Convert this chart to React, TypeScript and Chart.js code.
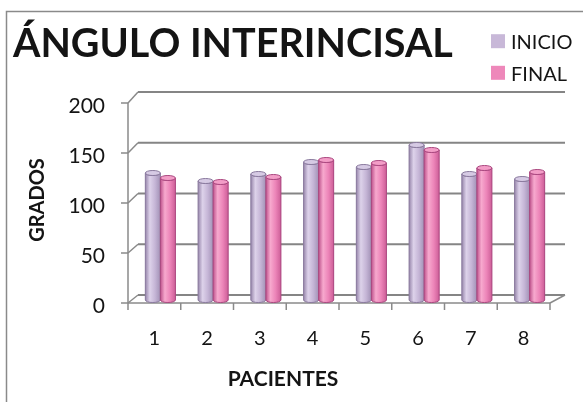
import React, { useEffect, useRef } from "react";
import { Chart, registerables } from "chart.js";

Chart.register(...registerables);

const PACIENTES = ["1", "2", "3", "4", "5", "6", "7", "8"];
const INICIO = [127, 119, 126, 138, 133, 155, 126, 121];
const FINAL = [122, 118, 123, 140, 137, 150, 132, 128];
const Y_TICKS = [0, 50, 100, 150, 200];

const TITLE = "ÁNGULO INTERINCISAL";
const X_TITLE = "PACIENTES";
const Y_TITLE = "GRADOS";
const SERIES = ["INICIO", "FINAL"];

const FONT = "Lato, 'Open Sans', sans-serif";
const INK = "#141414";
const LINE = "#8a8a8a";

// cylinder shading for each series
const SHADES = [
  { base: "#c8b8d8", edge: "#9786ab", light: "#ddd2ea", body: "#c5b5d6", edge2: "#a292b6", cap: "#d6cae4", line: "#8a7a9e" },
  { base: "#ee88ba", edge: "#be528c", light: "#f7a9ce", body: "#ec84b8", edge2: "#cc5e97", cap: "#f39dc7", line: "#ab4880" },
];

// the front edge of the floor sits left of and below the plane the bars stand on
const FRONT_DX = -6;
const FRONT_DY = 3;

const box3d = {
  id: "box3d",
  beforeDraw(chart: any) {
    const { ctx, width, height } = chart;
    ctx.save();
    ctx.fillStyle = "#ffffff";
    ctx.fillRect(0, 0, width, height);
    ctx.strokeStyle = LINE;
    ctx.lineWidth = 1.5;
    ctx.strokeRect(6.5, 11.5, width + 20, height + 20);
    ctx.restore();
  },
  beforeDatasetsDraw(chart: any) {
    const { ctx, chartArea: a, scales } = chart;
    const yS = scales.y;
    const y0 = yS.getPixelForValue(0);
    // back wall: slightly raised and stretched by the perspective
    const backY = (v: number) => y0 - 5 - (y0 - yS.getPixelForValue(v)) * 1.015;
    const backL = a.left + 4;
    const backR = a.right + 9;
    const fy = (v: number) => yS.getPixelForValue(v) + FRONT_DY;
    const fL = a.left + FRONT_DX;
    const fR = a.right + FRONT_DX;
    const seg = (x1: number, y1: number, x2: number, y2: number) => {
      ctx.beginPath();
      ctx.moveTo(x1, y1);
      ctx.lineTo(x2, y2);
      ctx.stroke();
    };
    ctx.save();
    ctx.strokeStyle = "#858585";
    ctx.lineWidth = 2;
    Y_TICKS.forEach((v) => seg(backL, backY(v), backR, backY(v)));
    ctx.strokeStyle = LINE;
    ctx.lineWidth = 1.5;
    Y_TICKS.forEach((v) => {
      seg(fL, fy(v), backL, backY(v));
      seg(fL - 7, fy(v), fL, fy(v));
    });
    seg(fL, fy(200), fL, fy(0));
    seg(fL, fy(0), fR, fy(0));
    seg(fR, fy(0), backR, backY(0));
    const n = PACIENTES.length;
    for (let k = 0; k <= n; k++) {
      const x = a.left + (k * a.width) / n + FRONT_DX;
      seg(x, fy(0), x, fy(0) + 7);
    }
    ctx.restore();
  },
  afterDatasetsDraw(chart: any) {
    const { ctx } = chart;
    ctx.save();
    chart.data.datasets.forEach((_ds: any, di: number) => {
      const s = SHADES[di];
      chart.getDatasetMeta(di).data.forEach((el: any) => {
        const { x, y, width, base } = el.getProps(["x", "y", "width", "base"], true);
        const r = width / 2;
        const ry = 2.5;
        const l = x - r;
        const rt = x + r;
        const g = ctx.createLinearGradient(l, 0, rt, 0);
        g.addColorStop(0, s.edge);
        g.addColorStop(0.3, s.light);
        g.addColorStop(0.65, s.body);
        g.addColorStop(1, s.edge2);
        ctx.beginPath();
        ctx.moveTo(l, y);
        ctx.lineTo(l, base);
        ctx.ellipse(x, base, r, ry, 0, Math.PI, 0, true);
        ctx.lineTo(rt, y);
        ctx.ellipse(x, y, r, ry, 0, 0, Math.PI, false);
        ctx.closePath();
        ctx.fillStyle = g;
        ctx.fill();
        ctx.strokeStyle = s.line;
        ctx.lineWidth = 1;
        ctx.stroke();
        ctx.beginPath();
        ctx.ellipse(x, y, r, ry, 0, 0, Math.PI * 2);
        ctx.fillStyle = s.cap;
        ctx.fill();
        ctx.stroke();
      });
    });
    ctx.restore();
  },
  afterDraw(chart: any) {
    const { ctx } = chart;
    ctx.save();
    // legend, beside the title
    const rows = [49.2, 80.8];
    SERIES.forEach((name, i) => {
      ctx.fillStyle = chart.data.datasets[i].backgroundColor;
      ctx.fillRect(491, rows[i] - 15, 14, 14);
      ctx.fillStyle = INK;
      ctx.font = `20px ${FONT}`;
      ctx.textBaseline = "alphabetic";
      ctx.textAlign = "left";
      ctx.fillText(name, 511, rows[i]);
    });
    // category axis title
    ctx.font = `bold 21px ${FONT}`;
    ctx.textAlign = "center";
    ctx.fillText(X_TITLE, 283, 386);
    ctx.restore();
  },
};

export default function App() {
  const ref = useRef<HTMLCanvasElement | null>(null);
  useEffect(() => {
    if (!ref.current) return;
    const chart = new Chart(ref.current, {
      type: "bar",
      data: {
        labels: PACIENTES,
        datasets: [
          { label: SERIES[0], data: INICIO, backgroundColor: SHADES[0].base },
          { label: SERIES[1], data: FINAL, backgroundColor: SHADES[1].base },
        ],
      },
      options: {
        responsive: false,
        animation: false,
        events: [],
        layout: { padding: { left: 13, right: 27, top: 0, bottom: 0 } },
        datasets: { bar: { categoryPercentage: 0.57, barPercentage: 1 } },
        plugins: {
          legend: { display: false },
          tooltip: { enabled: false },
          title: {
            display: true,
            text: TITLE,
            align: "start",
            color: INK,
            font: { family: FONT, size: 39.5, weight: "bold", lineHeight: 1 },
            padding: { top: 25, bottom: 35.5 },
          },
        },
        scales: {
          x: {
            grid: { display: false },
            border: { display: false },
            ticks: { color: INK, font: { family: FONT, size: 20 }, padding: 19, labelOffset: FRONT_DX },
            afterFit: (s: any) => {
              s.height = 102;
            },
          },
          y: {
            min: 0,
            max: 200,
            grid: { display: false },
            border: { display: false },
            ticks: { stepSize: 50, color: INK, font: { family: FONT, size: 21 }, padding: 21, labelOffset: 6 },
            title: {
              display: true,
              text: Y_TITLE,
              color: INK,
              font: { family: FONT, size: 20, weight: "bold" },
              padding: { top: 13, bottom: 0 },
            },
            afterFit: (s: any) => {
              s.width = 121;
            },
          },
        },
      },
      plugins: [box3d],
    });
    return () => chart.destroy();
  }, []);
  return (
    <div style={{ position: "absolute", left: 0, top: 0, width: 583, height: 402 }}>
      <canvas ref={ref} width={583} height={402} style={{ display: "block" }} />
    </div>
  );
}
